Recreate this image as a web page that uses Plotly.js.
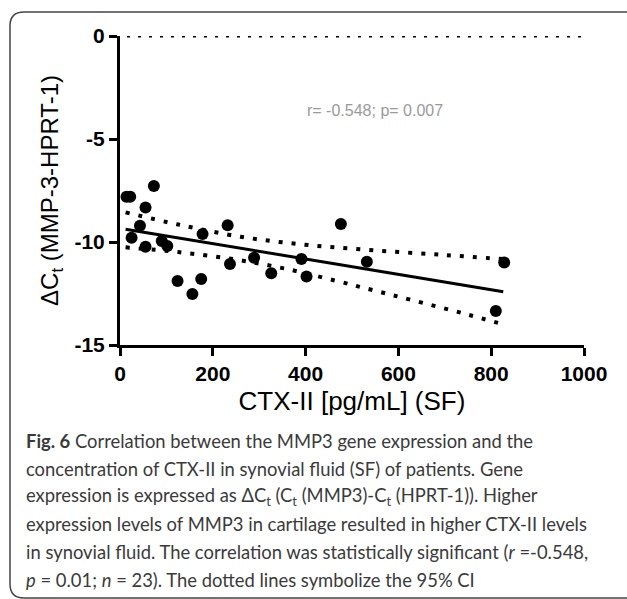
<!DOCTYPE html>
<html>
<head>
<meta charset="utf-8">
<script src="https://cdn.plot.ly/plotly-3.0.1.min.js"></script>
<style>
html,body{margin:0;padding:0;background:#fff;}
#chart{width:627px;height:599px;}
</style>
</head>
<body>
<div id="chart"></div>
<script>
// ---- data ----
const ctxII = [14, 22, 73, 55, 43, 25, 55, 90, 102, 178, 232, 124, 156, 175, 237, 289, 326, 391, 402, 476, 532, 828, 810];
const deltaCt = [-7.80, -7.80, -7.28, -8.33, -9.21, -9.79, -10.23, -9.95, -10.19, -9.61, -9.19, -11.89, -12.52, -11.80, -11.07, -10.76, -11.52, -10.83, -11.68, -9.13, -10.96, -10.99, -13.35];

const fitX = [12, 826];
const fitY = [-9.38, -12.41];

const ciUpperX = [12, 123, 264, 407, 552, 699, 826];
const ciUpperY = [-8.56, -9.14, -9.76, -10.15, -10.41, -10.63, -10.83];
const ciLowerX = [12, 126, 243, 353, 465, 547, 629, 739, 826];
const ciLowerY = [-10.26, -10.49, -10.83, -11.28, -11.88, -12.35, -12.82, -13.46, -14.00];

const refLineX = [15, 1000];
const refLineY = [0, 0];

const xTickVals = [0, 200, 400, 600, 800, 1000];
const xTickText = ['0', '200', '400', '600', '800', '1000'];
const yTickVals = [0, -5, -10, -15];
const yTickText = ['0', '-5', '-10', '-15'];

const statText = 'r= -0.548; p= 0.007';
const statPos = [550, -3.64];

const captionLines = [
  '<b>Fig. 6</b> Correlation between the MMP3 gene expression and the',
  'concentration of CTX-II in synovial fluid (SF) of patients. Gene',
  'expression is expressed as ΔC<sub>t</sub> (C<sub>t</sub> (MMP3)-C<sub>t</sub> (HPRT-1)). Higher',
  'expression levels of MMP3 in cartilage resulted in higher CTX-II levels',
  'in synovial fluid. The correlation was statistically significant (<i>r</i> =-0.548,',
  '<i>p</i> = 0.01; <i>n</i> = 23). The dotted lines symbolize the 95% CI'
];

// ---- layout geometry (pixels) ----
const W = 627, H = 599;
const M = {l: 120, r: 43, t: 36, b: 254};
const PW = W - M.l - M.r, PH = H - M.t - M.b;
const px2x = p => (p - M.l) / PW;
const py2y = p => (H - M.b - p) / PH;

const captionTop = 441, captionStep = 27.8;

const traces = [
  {x: refLineX, y: refLineY, mode: 'lines', line: {color: '#000', width: 3, dash: '3px,8px'}, cliponaxis: false, hoverinfo: 'skip'},
  {x: ciUpperX, y: ciUpperY, mode: 'lines', line: {color: '#000', width: 4, dash: '4px,9px', shape: 'spline'}, hoverinfo: 'skip'},
  {x: ciLowerX, y: ciLowerY, mode: 'lines', line: {color: '#000', width: 4, dash: '4px,9px', shape: 'spline'}, hoverinfo: 'skip'},
  {x: fitX, y: fitY, mode: 'lines', line: {color: '#000', width: 3}, hoverinfo: 'skip'},
  {x: ctxII, y: deltaCt, mode: 'markers', marker: {color: '#000', size: 12}, cliponaxis: false}
];

// rounded frame
const r = 14, fx0 = 10, fy0 = 12, fx1 = 660, fy1 = 598;
const P = (a, b) => px2x(a).toFixed(5) + ',' + py2y(b).toFixed(5);
const framePath = 'M ' + P(fx1, fy0) + ' L ' + P(fx0 + r, fy0) + ' Q ' + P(fx0, fy0) + ' ' + P(fx0, fy0 + r) +
  ' L ' + P(fx0, fy1 - r) + ' Q ' + P(fx0, fy1) + ' ' + P(fx0 + r, fy1) + ' L ' + P(fx1, fy1);

const annotations = [
  {x: statPos[0], y: statPos[1], xref: 'x', yref: 'y', text: statText, showarrow: false,
   font: {family: 'Arial, Liberation Sans, sans-serif', size: 16, color: '#9a9a9a'}}
];
captionLines.forEach((t, i) => {
  annotations.push({
    x: px2x(24), y: py2y(captionTop + i * captionStep), xref: 'paper', yref: 'paper',
    xanchor: 'left', yanchor: 'middle', align: 'left', showarrow: false, text: t,
    font: {family: 'Lato, Open Sans, sans-serif', size: 18.4, color: '#3a3a3a'}
  });
});

const axisFont = {family: 'Arial, Liberation Sans, sans-serif', size: 21, color: '#000', weight: 'bold'};

const layout = {
  width: W, height: H,
  margin: M,
  paper_bgcolor: '#fff', plot_bgcolor: '#fff',
  showlegend: false,
  xaxis: {
    range: [0, 1000], tickvals: xTickVals, ticktext: xTickText,
    showgrid: false, zeroline: false, showline: true, linecolor: '#000', linewidth: 3,
    ticks: 'outside', ticklen: 8, tickwidth: 3, tickcolor: '#000',
    tickfont: axisFont,
    title: {text: 'CTX-II [pg/mL] (SF)', font: {family: 'Arial, Liberation Sans, sans-serif', size: 26, color: '#000'}, standoff: 8}
  },
  yaxis: {
    range: [-15, 0], tickvals: yTickVals, ticktext: yTickText,
    showgrid: false, zeroline: false, showline: true, linecolor: '#000', linewidth: 3,
    ticks: 'outside', ticklen: 8, tickwidth: 3, tickcolor: '#000',
    tickfont: axisFont,
    title: {text: 'ΔC<sub>t</sub> (MMP-3-HPRT-1)', font: {family: 'Arial, Liberation Sans, sans-serif', size: 24, color: '#000'}, standoff: 10}
  },
  shapes: [
    {type: 'path', xref: 'paper', yref: 'paper', path: framePath, line: {color: '#444', width: 1.5}, layer: 'above'}
  ],
  annotations: annotations
};

Plotly.newPlot('chart', traces, layout, {staticPlot: true, displayModeBar: false});
</script>
</body>
</html>
